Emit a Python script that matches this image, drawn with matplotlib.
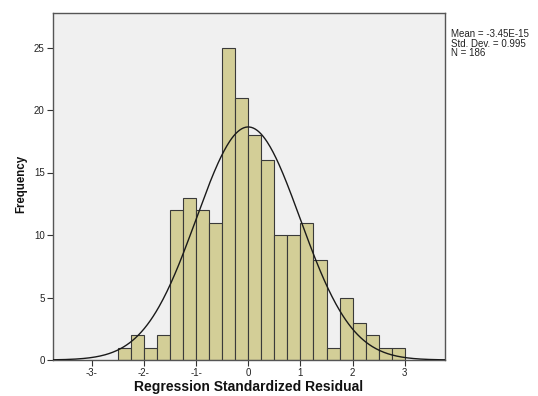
import numpy as np
import matplotlib
matplotlib.use("Agg")
import matplotlib.pyplot as plt

plt.rcParams['font.family'] = ['Liberation Sans', 'DejaVu Sans']

# Data
bin_edges = [-2.5, -2.25, -2.0, -1.75, -1.5, -1.25, -1.0, -0.75, -0.5, -0.25, 0.0,
             0.25, 0.5, 0.75, 1.0, 1.25, 1.5, 1.75, 2.0, 2.25, 2.5, 2.75, 3.0]
counts = [1, 2, 1, 2, 12, 13, 12, 11, 25, 21, 18, 16, 10, 10, 11, 8, 1, 5, 3, 2, 1, 1]
mean_val = -3.45e-15
std_val = 0.995
n_val = 186
x_ticks = [-3, -2, -1, 0, 1, 2, 3]
x_tick_labels = ["-3-", "-2-", "-1-", "0", "1", "2", "3"]
y_ticks = [0, 5, 10, 15, 20, 25]

fig = plt.figure(figsize=(5.38, 3.96), dpi=100)
ax = fig.add_axes([53/538, 1 - 360/396, (445 - 53)/538, (360 - 13)/396])
ax.set_facecolor('#F0F0F0')

edges = np.array(bin_edges)
ax.bar(edges[:-1], counts, width=np.diff(edges), align='edge',
       color='#D3CE97', edgecolor='#3A3A3A', linewidth=0.8, zorder=2)

xs = np.linspace(-3.74, 3.77, 400)
bw = edges[1] - edges[0]
ys = n_val * bw / (std_val * np.sqrt(2 * np.pi)) * np.exp(-0.5 * ((xs - mean_val) / std_val) ** 2)
ax.plot(xs, ys, color='#1A1A1A', linewidth=1.0, zorder=3)

ax.set_xlim(-3.74, 3.77)
ax.set_ylim(0, 27.76)
ax.set_xticks(x_ticks)
ax.set_xticklabels(x_tick_labels)
ax.set_yticks(y_ticks)
ax.tick_params(axis='both', labelsize=7, length=4, width=0.8, color='#333333',
               labelcolor='#222222', pad=2)
for s in ax.spines.values():
    s.set_color('#555555')
    s.set_linewidth(1.0)

fig.text(21/538, 1 - 184/396, 'Frequency', rotation=90, fontsize=8.3,
         fontweight='bold', ha='center', va='center', color='#111111')
fig.text(249/538, 1.5/396, 'Regression Standardized Residual', fontsize=10,
         fontweight='bold', ha='center', va='bottom', color='#111111')

fig.text(451/538, 1 - 29/396,
         'Mean = -3.45E-15\nStd. Dev. = 0.995\nN = 186',
         fontsize=7, va='top', ha='left', linespacing=0.95, color='#222222')

fig.savefig('out.png', dpi=100)
